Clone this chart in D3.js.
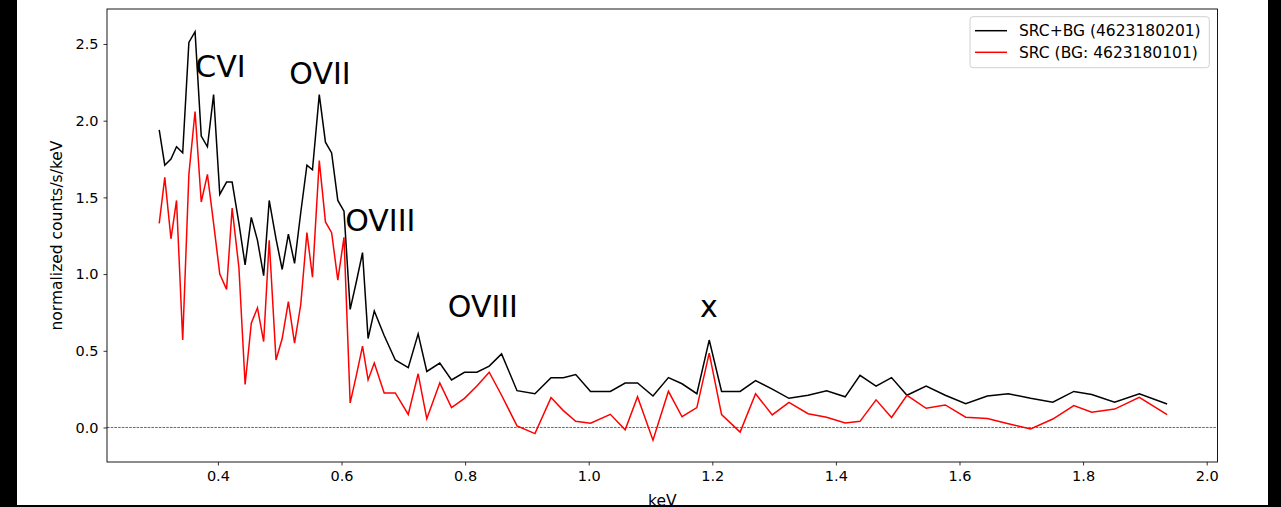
<!DOCTYPE html>
<html>
<head>
<meta charset="utf-8">
<script src="https://cdnjs.cloudflare.com/ajax/libs/d3/7.8.5/d3.min.js"></script>
<style>
  body { margin: 0; background: #fff; }
  text { font-family: "DejaVu Sans", sans-serif; }
</style>
</head>
<body>
<div id="spectrum"></div>
<script>

// energies (keV) of the spectral bins
var energy = [0.305, 0.314, 0.324, 0.333, 0.343, 0.353, 0.363, 0.373, 0.383, 0.393,
  0.403, 0.414, 0.423, 0.434, 0.444, 0.454, 0.464, 0.474, 0.483, 0.494,
  0.504, 0.514, 0.524, 0.534, 0.544, 0.553, 0.564, 0.574, 0.584, 0.594,
  0.604, 0.614, 0.624, 0.634, 0.643, 0.653, 0.669, 0.687, 0.708, 0.724,
  0.738, 0.759, 0.778, 0.799, 0.819, 0.839, 0.859, 0.884, 0.913, 0.939,
  0.959, 0.979, 1.003, 1.035, 1.059, 1.079, 1.104, 1.129, 1.151, 1.175,
  1.195, 1.215, 1.245, 1.270, 1.297, 1.324, 1.355, 1.385, 1.415, 1.439,
  1.465, 1.490, 1.515, 1.546, 1.577, 1.610, 1.645, 1.679, 1.715, 1.751,
  1.785, 1.814, 1.851, 1.891, 1.936];

// SRC+BG (4623180201)
var srcbg = [1.94, 1.71, 1.75, 1.83, 1.79, 2.51, 2.58, 1.90, 1.83, 2.17,
  1.52, 1.60, 1.60, 1.33, 1.06, 1.37, 1.22, 0.99, 1.48, 1.23,
  1.03, 1.26, 1.07, 1.40, 1.71, 1.68, 2.17, 1.86, 1.79, 1.48,
  1.41, 0.77, 0.95, 1.14, 0.58, 0.76, 0.60, 0.44, 0.39, 0.61,
  0.365, 0.42, 0.31, 0.36, 0.36, 0.40, 0.48, 0.24, 0.22, 0.325,
  0.325, 0.345, 0.235, 0.235, 0.29, 0.29, 0.205, 0.325, 0.285, 0.22,
  0.57, 0.235, 0.235, 0.305, 0.25, 0.19, 0.21, 0.24, 0.20, 0.34,
  0.27, 0.325, 0.21, 0.27, 0.21, 0.155, 0.205, 0.22, 0.19, 0.165,
  0.235, 0.215, 0.165, 0.22, 0.153];

// SRC (BG: 4623180101)
var src = [1.33, 1.63, 1.23, 1.48, 0.57, 1.65, 2.06, 1.47, 1.65, 1.33,
  1.00, 0.90, 1.43, 1.04, 0.28, 0.68, 0.78, 0.56, 1.22, 0.44,
  0.58, 0.82, 0.55, 0.80, 1.27, 0.98, 1.74, 1.34, 1.27, 0.96,
  1.24, 0.16, 0.34, 0.53, 0.31, 0.42, 0.225, 0.225, 0.085, 0.35,
  0.057, 0.29, 0.13, 0.19, 0.27, 0.36, 0.21, 0.01, -0.04, 0.195,
  0.11, 0.04, 0.028, 0.086, -0.015, 0.20, -0.083, 0.236, 0.07, 0.13,
  0.485, 0.084, -0.03, 0.22, 0.082, 0.164, 0.09, 0.067, 0.03, 0.04,
  0.18, 0.065, 0.21, 0.125, 0.147, 0.067, 0.058, 0.024, -0.01, 0.055,
  0.143, 0.10, 0.12, 0.197, 0.084];

var seriesNames = ["SRC+BG (4623180201)", "SRC (BG: 4623180101)"];
var seriesColors = ["#000000", "#ff0000"];

// line labels, placed in data coordinates
var lineNames = ["CVI", "OVII", "OVIII", "OVIII", "x"];
var lineX = [0.3635, 0.5155, 0.606, 0.772, 1.180];
var lineY = [2.283, 2.240, 1.284, 0.720, 0.720];

var xTicks = [0.4, 0.6, 0.8, 1.0, 1.2, 1.4, 1.6, 1.8, 2.0];
var yTicks = [0.0, 0.5, 1.0, 1.5, 2.0, 2.5];

// set the dimensions and margins of the graph
var W = 1281, H = 507;
var margin = {top: 9, right: 63.5, bottom: 45, left: 107},
    width = W - margin.left - margin.right,
    height = H - margin.top - margin.bottom;

var root = d3.select("#spectrum")
  .append("svg")
    .attr("width", W)
    .attr("height", H);

root.append("rect")
    .attr("width", W).attr("height", H)
    .attr("fill", "#fff");

var svg = root.append("g")
    .attr("transform", "translate(" + margin.left + "," + margin.top + ")");

var x = d3.scaleLinear()
  .domain([0.2205, 2.0175])
  .range([0, width]);

var y = d3.scaleLinear()
  .domain([-0.225, 2.728])
  .range([height, 0]);

// X axis
var xAxis = svg.append("g")
  .attr("transform", "translate(0," + height + ")")
  .call(d3.axisBottom(x).tickValues(xTicks).tickFormat(d3.format(".1f")).tickSizeOuter(0).tickSize(3.5).tickPadding(5));

// Y axis
var yAxis = svg.append("g")
  .call(d3.axisLeft(y).tickValues(yTicks).tickFormat(d3.format(".1f")).tickSizeOuter(0).tickSize(3.5).tickPadding(5));

[xAxis, yAxis].forEach(function(a) {
  a.select(".domain").remove();
  a.selectAll("line").attr("stroke", "#000").attr("stroke-width", 0.8);
  a.selectAll("text").attr("fill", "#000").style("font-size", "14.5px")
    .style("font-family", "DejaVu Sans, sans-serif");
});

// zero line
svg.append("line")
  .attr("x1", 0).attr("x2", width)
  .attr("y1", y(0)).attr("y2", y(0))
  .attr("stroke", "#000")
  .attr("stroke-width", 0.6)
  .attr("stroke-dasharray", "2.6,1.1");

// spectra
var line = d3.line()
  .x(function(d) { return x(d[0]); })
  .y(function(d) { return y(d[1]); });

[srcbg, src].forEach(function(vals, k) {
  svg.append("path")
    .datum(energy.map(function(e, i) { return [e, vals[i]]; }))
    .attr("fill", "none")
    .attr("stroke", seriesColors[k])
    .attr("stroke-width", 1.5)
    .attr("stroke-linejoin", "miter")
    .attr("d", line);
});

// line labels
svg.selectAll("text.ion")
  .data(lineNames)
  .enter()
  .append("text")
    .attr("class", "ion")
    .attr("x", function(d, i) { return x(lineX[i]); })
    .attr("y", function(d, i) { return y(lineY[i]); })
    .style("font-size", "30px")
    .attr("fill", "#000")
    .text(function(d) { return d; });

// frame
svg.append("rect")
  .attr("width", width).attr("height", height)
  .attr("fill", "none")
  .attr("stroke", "#000")
  .attr("stroke-width", 0.9);

// legend
var lg = svg.append("g")
  .attr("transform", "translate(" + (970 - margin.left) + "," + (16.7 - margin.top) + ")");
lg.append("rect")
  .attr("width", 239.3).attr("height", 51)
  .attr("rx", 3)
  .attr("fill", "#fff").attr("fill-opacity", 0.8)
  .attr("stroke", "#d0d0d0").attr("stroke-width", 1);
seriesNames.forEach(function(name, i) {
  var ly = 14 + i * 21.6;
  lg.append("line")
    .attr("x1", 5).attr("x2", 37)
    .attr("y1", ly).attr("y2", ly)
    .attr("stroke", seriesColors[i]).attr("stroke-width", 1.5);
  lg.append("text")
    .attr("x", 49).attr("y", ly)
    .attr("dy", "0.36em")
    .style("font-size", "15.5px")
    .attr("fill", "#000")
    .text(name);
});

// axis labels
svg.append("text")
  .attr("text-anchor", "middle")
  .attr("x", width / 2)
  .attr("y", height + 44)
  .style("font-size", "15.5px")
  .text("keV");

svg.append("text")
  .attr("text-anchor", "middle")
  .attr("transform", "translate(" + (62 - margin.left) + "," + (height / 2) + ")rotate(-90)")
  .style("font-size", "15.5px")
  .text("normalized counts/s/keV");

// dark borders of the screenshot
root.append("rect").attr("x", 0).attr("y", 0).attr("width", 17).attr("height", H).attr("fill", "#000");
root.append("rect").attr("x", 1268).attr("y", 0).attr("width", W - 1268).attr("height", H).attr("fill", "#000");
root.append("rect").attr("x", 0).attr("y", 505).attr("width", W).attr("height", 2).attr("fill", "#000");

</script>
</body>
</html>
